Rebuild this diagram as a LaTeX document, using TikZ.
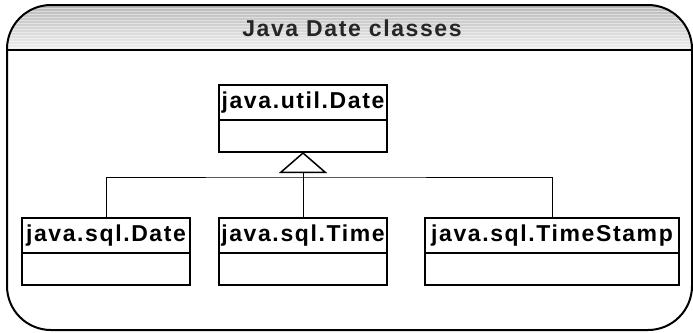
\documentclass[tikz,border=0pt]{standalone}
\usepackage{fontspec}
\setmainfont{Liberation Sans}
\newfontfamily\umlfont{Liberation Sans}[LetterSpace=7]
\usetikzlibrary{arrows.meta,positioning}

\begin{document}
\begin{tikzpicture}[x=1pt,y=-1pt,
  font={\umlfont\bfseries\fontsize{23}{27}\selectfont},
  clsname/.style={draw,line width=1.5pt,fill=white,inner sep=0pt,outer sep=0pt,minimum height=35pt},
  clsbody/.style={draw,line width=1.5pt,fill=white,inner sep=0pt,outer sep=0pt,minimum height=32pt},
  inherit/.style={line width=1pt,-{Triangle[open,length=21pt,width=48pt,line width=1.5pt]}}]
  \useasboundingbox (0,0) rectangle (693,332);
  % header band
  \begin{scope}
    \clip[rounded corners=44pt] (7,5) rectangle (692,330);
    \shade[top color=gray!55,bottom color=gray!12] (7,5) rectangle (692,50);
    \foreach \y in {8,11,...,47} {\draw[white,opacity=.45,line width=.8pt] (7,\y) -- (692,\y);}
  \end{scope}
  \draw[line width=2pt,rounded corners=44pt] (7,5) rectangle (692,330);
  \draw[line width=2pt] (7,50) -- (692,50);
  \node[text=black!85] (title) at (352,28) {Java Date classes};
  % classes
  \node[clsname,minimum width=168pt] (util) at (303,102.5) {java.util.Date};
  \node[clsbody,minimum width=168pt,below=0pt of util] (utilbody) {};
  \node[clsname,minimum width=168pt] (sqldate) at (106,235.5) {java.sql.Date};
  \node[clsbody,minimum width=168pt,below=0pt of sqldate] (sqldatebody) {};
  \node[clsname,minimum width=168pt] (sqltime) at (303,235.5) {java.sql.Time};
  \node[clsbody,minimum width=168pt,below=0pt of sqltime] (sqltimebody) {};
  \node[clsname,minimum width=254pt] (stamp) at (552,235.5) {java.sql.TimeStamp};
  \node[clsbody,minimum width=254pt,below=0pt of stamp] (stampbody) {};
  % generalisation
  \coordinate (bus) at (303,177);
  \draw[line width=1pt] (sqldate.north) |- (bus) -| (stamp.north);
  \draw[inherit] (sqltime.north) -- (utilbody.south);
\end{tikzpicture}
\end{document}
